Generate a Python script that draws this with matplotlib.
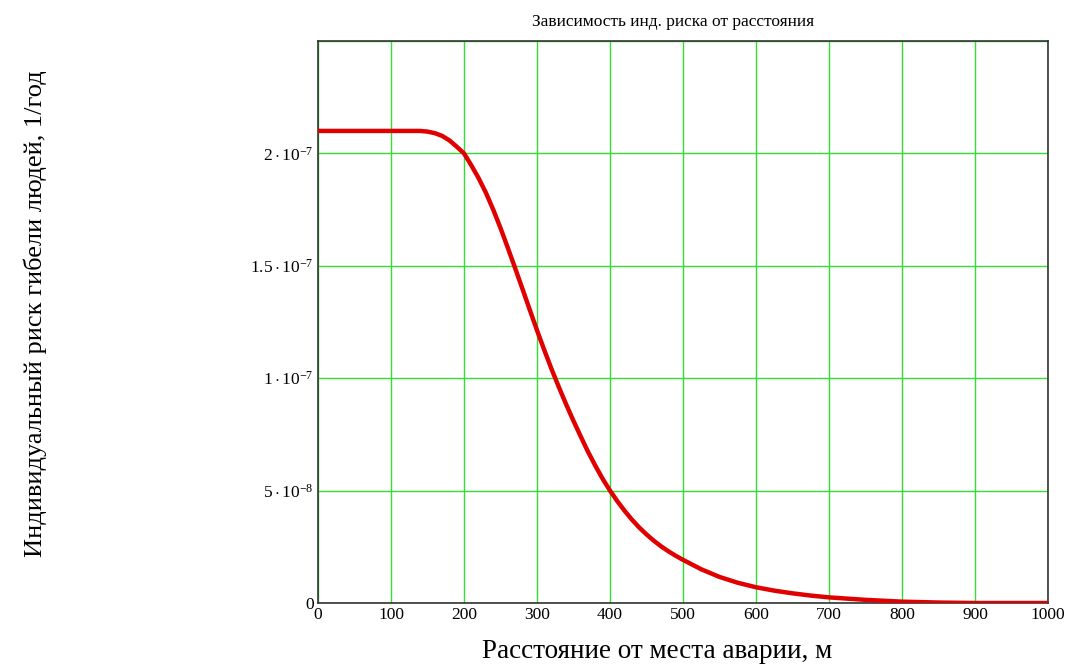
import matplotlib
matplotlib.use("Agg")
import matplotlib.pyplot as plt
import numpy as np

plt.rcParams['font.family'] = ['Liberation Serif', 'DejaVu Serif']
plt.rcParams['mathtext.fontset'] = 'custom'
plt.rcParams['mathtext.rm'] = 'Liberation Serif'
plt.rcParams['mathtext.it'] = 'Liberation Serif:italic'

title = "Зависимость инд. риска от расстояния"
xlabel = "Расстояние от места аварии, м"
ylabel = "Индивидуальный риск гибели людей, 1/год"

# distance, m
distance = [0, 100, 140, 150, 160, 170, 180, 190, 200, 210, 220, 230, 240, 250,
            260, 270, 280, 290, 300, 310, 320, 330, 340, 350, 360, 370, 380,
            390, 400, 410, 420, 430, 440, 450, 460, 470, 480, 490, 500, 525,
            550, 575, 600, 625, 650, 675, 700, 750, 800, 850, 900, 1000]
# individual risk, units of 1e-9 per year
risk_e9 = [210.0, 210.0, 210.0, 209.7, 209.0, 207.8, 205.8, 203.0, 200.0, 194.7,
           189.0, 182.5, 175.0, 166.8, 158.0, 149.0, 139.8, 130.5, 121.3, 112.5,
           104.0, 96.0, 88.3, 81.0, 74.0, 67.2, 61.0, 55.2, 50.0, 45.3, 41.0,
           37.1, 33.6, 30.5, 27.7, 25.2, 23.0, 21.0, 19.2, 15.0, 11.6, 9.0, 7.0,
           5.5, 4.3, 3.3, 2.5, 1.4, 0.6, 0.2, 0.0, 0.0]

xticks = [0, 100, 200, 300, 400, 500, 600, 700, 800, 900, 1000]
yticks = [0, 5e-8, 1e-7, 1.5e-7, 2e-7]
yticklabels = ["0", r"$5\cdot10^{-8}$", r"$1\cdot10^{-7}$", r"$1.5\cdot10^{-7}$", r"$2\cdot10^{-7}$"]

risk = np.array(risk_e9) * 1e-9

fig = plt.figure(figsize=(10.68, 6.66), dpi=100)
ax = fig.add_axes([318/1068, 1-603/666, (1048-318)/1068, (603-41)/666])

ax.plot(distance, risk, color='#e00000', lw=3.2, solid_joinstyle='round',
        solid_capstyle='butt', zorder=3)

ax.set_xlim(0, 1000)
ax.set_ylim(0, 2.5e-7)
ax.set_xticks(xticks)
ax.set_xticklabels([str(t) for t in xticks], fontsize=12.5)
ax.set_yticks(yticks + [2.5e-7])
ax.set_yticklabels(yticklabels + [""], fontsize=12.5)
ax.tick_params(length=0, pad=3)
ax.grid(True, color='#33dd33', lw=1.0)
for s in ax.spines.values():
    s.set_color('#333333')
    s.set_linewidth(1.2)

fig.text(673/1068, 1-22/666, title, ha='center', va='center', fontsize=12.5)
fig.text(657/1068, 1-651/666, xlabel, ha='center', va='center', fontsize=19.5)
fig.text(35/1068, 1-314/666, ylabel, ha='center', va='center', rotation=90, fontsize=19)

fig.savefig("out.png", dpi=100)
